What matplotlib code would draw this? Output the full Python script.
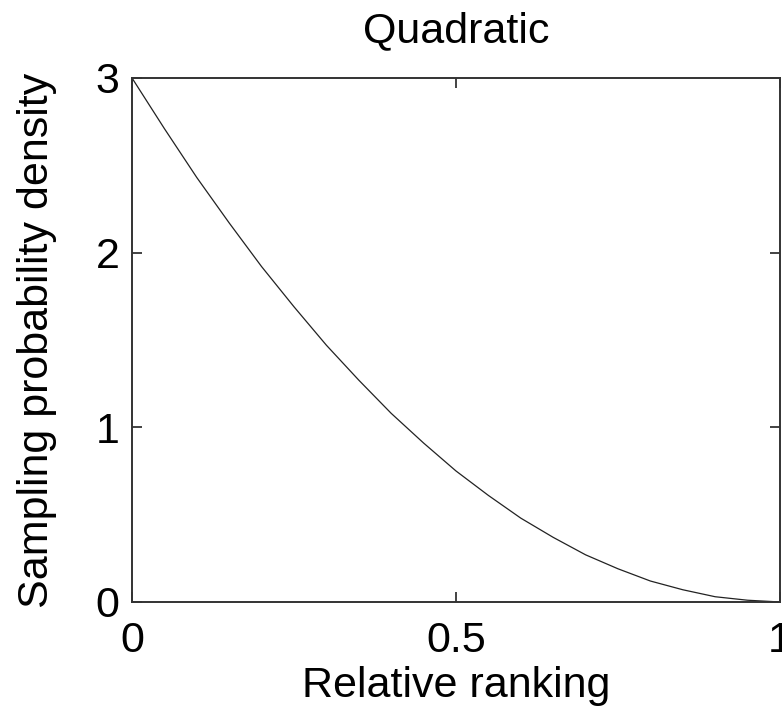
import matplotlib
matplotlib.use("Agg")
import matplotlib.pyplot as plt

# values
ranking = [0.0, 0.05, 0.1, 0.15, 0.2, 0.25, 0.3, 0.35, 0.4, 0.45, 0.5,
           0.55, 0.6, 0.65, 0.7, 0.75, 0.8, 0.85, 0.9, 0.95, 1.0]
density = [3.0, 2.71, 2.43, 2.17, 1.92, 1.69, 1.47, 1.27, 1.08, 0.91, 0.75,
           0.61, 0.48, 0.37, 0.27, 0.19, 0.12, 0.07, 0.03, 0.01, 0.0]
x_ticks = [0, 0.5, 1]
x_tick_labels = ["0", "0.5", "1"]
y_ticks = [0, 1, 2, 3]

plt.rcParams["font.family"] = ["Liberation Sans", "DejaVu Sans"]

fig = plt.figure(figsize=(7.82, 7.14), dpi=100)
ax = fig.add_axes([0.1688, 0.1569, 0.8286, 0.7339])

ax.plot(ranking, density, color="#222222", linewidth=0.9)

ax.set_xlim(0, 1)
ax.set_ylim(0, 3)
ax.set_xticks(x_ticks)
ax.set_xticklabels(x_tick_labels)
ax.set_yticks(y_ticks)

ax.tick_params(axis="both", direction="in", length=7, width=1.2,
               labelsize=31, top=True, right=True, color="#222222")
ax.tick_params(axis="x", pad=14)
ax.tick_params(axis="y", pad=9)
for s in ax.spines.values():
    s.set_linewidth(1.4)
    s.set_color("#333333")

ax.set_title("Quadratic", fontsize=31, pad=26)
ax.set_xlabel("Relative ranking", fontsize=31, labelpad=3)
ax.set_ylabel("Sampling probability density", fontsize=31, labelpad=28)

fig.savefig("out.png", dpi=100)
